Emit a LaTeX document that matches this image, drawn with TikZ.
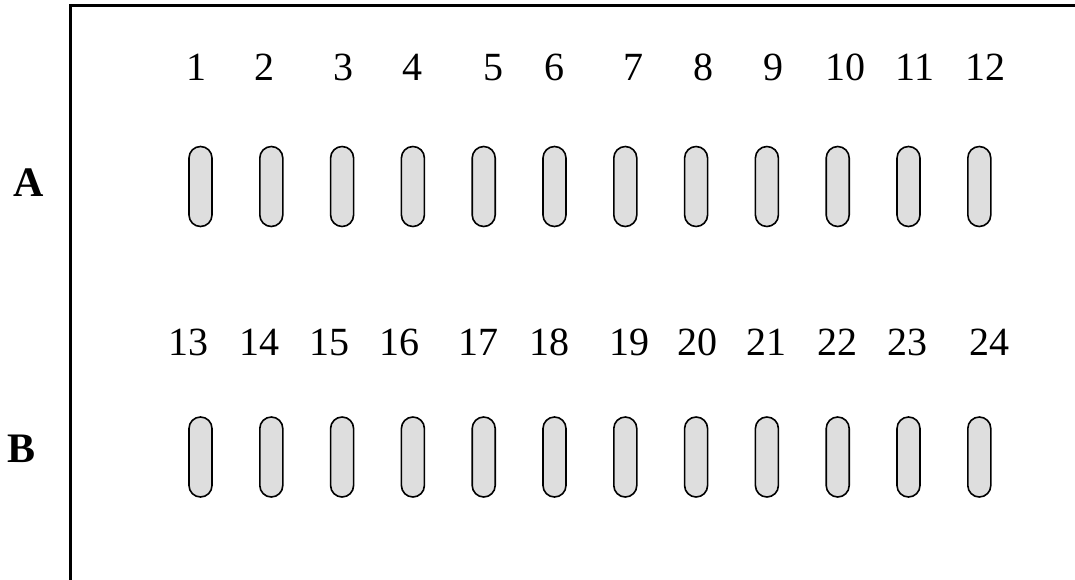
\documentclass[tikz,border=0pt]{standalone}
\usepackage{fontspec}
\setmainfont{Liberation Serif}
\usetikzlibrary{shapes.misc}
\definecolor{pillgray}{HTML}{DEDEDE}
\tikzset{
  pill/.style={draw=black, fill=pillgray, line width=1.6pt, rounded rectangle, rounded rectangle arc length=180, minimum width=80pt, minimum height=23pt, inner sep=0pt, rotate=90},
  num/.style={inner sep=0pt, anchor=base, font=\fontsize{40}{48}\selectfont},
  rowlab/.style={inner sep=0pt, anchor=base, font=\fontsize{42}{50}\selectfont\bfseries},
  frame/.style={line width=3pt, line cap=rect}
}
\begin{document}
\begin{tikzpicture}[x=1pt,y=-1pt]
\useasboundingbox (0,0) rectangle (1075,579);
\coordinate (fb) at (70,581);
\coordinate (fc) at (70,5);
\coordinate (fr) at (1077,5);
\draw[frame] (fb) -- (fc) -- (fr);
\node[rowlab] (A) at (29,196) {A};
\node[rowlab] (B) at (22,462) {B};
% row A labels
\foreach \n/\x in {1/196,2/264,3/343,4/412,5/493,6/554,7/633,8/703,9/773,10/845,11/915,12/985}
  \node[num] (l\n) at (\x,80) {\n};
\foreach \n/\x in {13/188,14/259,15/329,16/399,17/478,18/549,19/629,20/697.5,21/766,22/837.5,23/907,24/989.5}
  \node[num] (l\n) at (\x,355) {\n};
% pills
\foreach \i in {1,...,12}{
  \pgfmathsetmacro{\px}{200.5+(\i-1)*70.8}
  \node[pill] (p\i) at (\px,186.5) {};
  \pgfmathtruncatemacro{\j}{\i+12}
  \node[pill] (p\j) at (\px,457) {};
}
\end{tikzpicture}
\end{document}
